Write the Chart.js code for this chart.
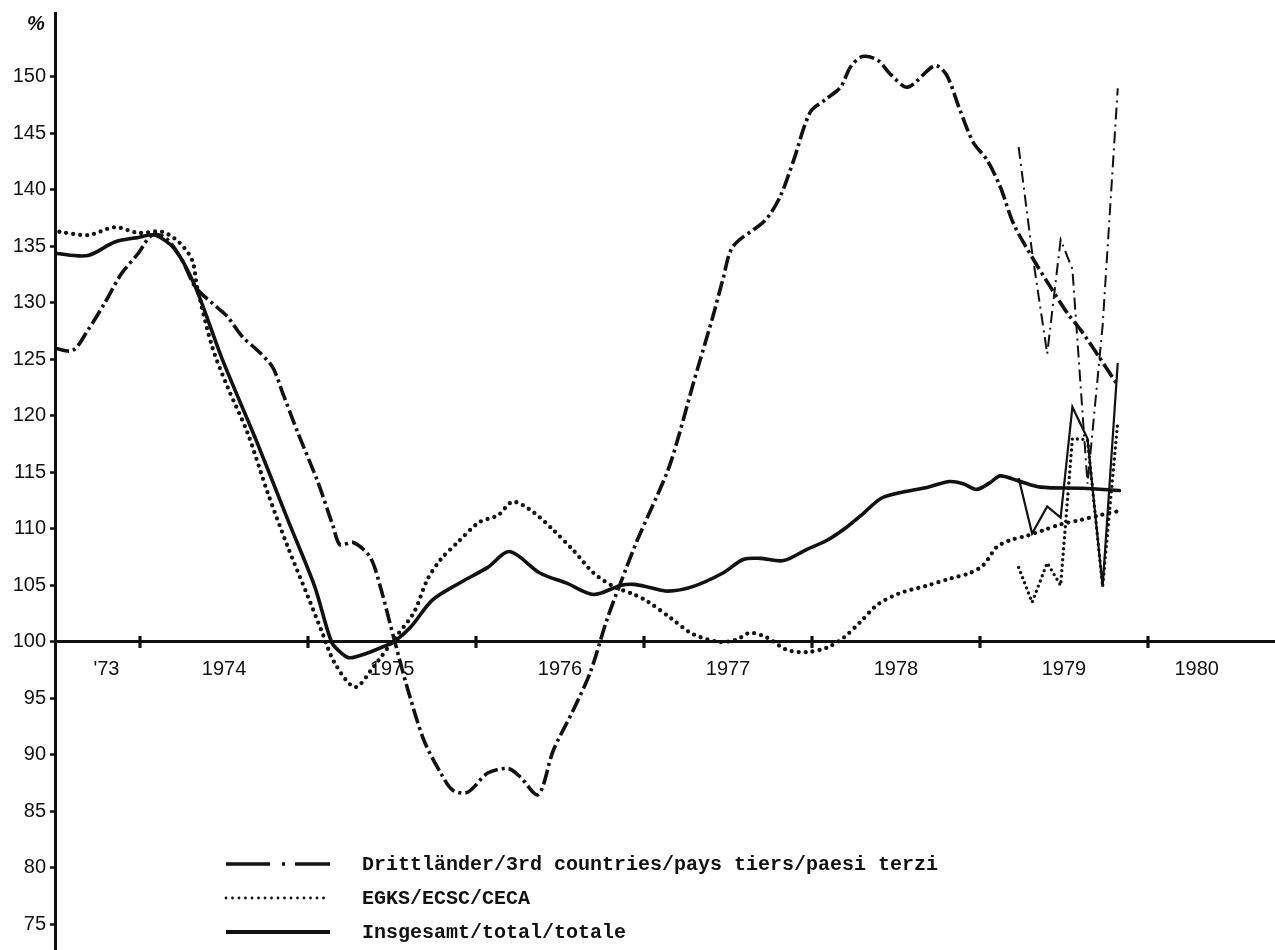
<!DOCTYPE html>
<html>
<head>
<meta charset="utf-8">
<script src="https://cdn.jsdelivr.net/npm/chart.js@4/dist/chart.umd.min.js"></script>
<style>
html,body{margin:0;padding:0;background:#ffffff;}
#wrap{width:1275px;height:950px;position:relative;}
</style>
</head>
<body>
<div id="wrap"><canvas id="c" width="1275" height="950"></canvas></div>
<script>
// ---------- data ----------
const seriesNames = [
  "Drittländer/3rd countries/pays tiers/paesi terzi",
  "EGKS/ECSC/CECA",
  "Insgesamt/total/totale"
];

// Drittländer / 3rd countries (smoothed, thick dash-dot)
const thirdYears = [1973.49,1973.60,1973.69,1973.79,1973.89,1973.99,1974.07,1974.15,1974.25,1974.33,
  1974.46,1974.52,1974.61,1974.70,1974.79,1974.85,1974.94,1975.06,1975.15,1975.19,
  1975.27,1975.37,1975.43,1975.51,1975.59,1975.69,1975.79,1975.86,1975.95,1976.07,
  1976.19,1976.26,1976.37,1976.46,1976.58,1976.68,1976.78,1976.86,1976.96,1977.14,
  1977.21,1977.29,1977.41,1977.47,1977.53,1977.72,1977.81,1977.89,1977.99,1978.08,
  1978.17,1978.23,1978.30,1978.39,1978.47,1978.57,1978.73,1978.80,1978.88,1978.96,
  1979.04,1979.12,1979.20,1979.32,1979.42,1979.52,1979.60,1979.71,1979.82];
const thirdValues = [126.0,125.8,127.6,130.0,132.6,134.4,136.0,135.8,133.8,131.4,
  129.6,128.8,127.0,125.8,124.3,122.0,118.5,114.1,110.2,108.6,
  108.8,107.5,104.9,100.4,96.0,91.3,88.4,86.9,86.7,88.4,
  88.8,88.1,86.5,90.4,94.0,97.3,102.0,105.2,109.0,115.1,
  118.4,122.7,128.8,132.1,135.0,137.3,139.4,142.6,146.9,148.0,
  149.1,150.9,151.8,151.5,150.2,149.1,151.0,150.2,147.1,144.2,
  142.7,140.3,137.0,133.8,131.4,129.1,127.6,125.2,122.7];

// EGKS / ECSC / CECA (smoothed, thick dotted)
const ecscYears = [1973.52,1973.69,1973.85,1973.99,1974.13,1974.23,1974.31,1974.34,1974.43,1974.52,
  1974.64,1974.76,1974.88,1975.00,1975.08,1975.16,1975.28,1975.39,1975.51,1975.63,
  1975.71,1975.79,1975.89,1976.02,1976.13,1976.22,1976.34,1976.46,1976.58,1976.70,
  1976.82,1976.94,1977.02,1977.16,1977.29,1977.45,1977.55,1977.63,1977.73,1977.85,
  1977.97,1978.09,1978.19,1978.29,1978.39,1978.52,1978.69,1978.82,1978.94,1979.02,
  1979.10,1979.18,1979.28,1979.38,1979.48,1979.60,1979.71,1979.83];
const ecscValues = [136.3,136.0,136.7,136.2,136.3,135.4,133.8,131.4,126.1,122.6,
  118.5,113.2,108.4,104.0,101.0,98.1,96.0,97.8,100.2,102.6,
  105.5,107.3,108.8,110.6,111.2,112.4,111.5,109.9,108.1,106.1,
  104.9,104.2,103.6,102.1,100.7,100.0,100.2,100.8,100.4,99.3,
  99.1,99.5,100.4,101.8,103.3,104.3,105.0,105.6,106.1,106.8,
  108.4,109.0,109.4,109.9,110.4,110.8,111.2,111.6];

// Insgesamt / total (smoothed, thick solid)
const totalYears = [1973.49,1973.69,1973.85,1973.99,1974.09,1974.21,1974.33,1974.49,1974.69,1974.88,
  1975.04,1975.14,1975.20,1975.25,1975.35,1975.45,1975.51,1975.61,1975.74,1975.90,
  1976.07,1976.20,1976.38,1976.54,1976.70,1976.86,1976.94,1977.04,1977.14,1977.29,
  1977.47,1977.59,1977.69,1977.83,1977.97,1978.09,1978.21,1978.30,1978.41,1978.52,
  1978.69,1978.82,1978.90,1978.98,1979.06,1979.12,1979.24,1979.36,1979.61,1979.83];
const totalValues = [134.4,134.2,135.4,135.8,136.0,134.7,131.4,125.0,117.9,110.8,
  104.9,100.0,99.0,98.6,99.0,99.6,100.0,101.3,103.7,105.2,
  106.6,108.0,106.1,105.2,104.2,105.0,105.1,104.8,104.5,104.9,
  106.1,107.3,107.4,107.2,108.2,109.0,110.2,111.3,112.7,113.2,
  113.7,114.2,114.0,113.5,114.1,114.7,114.2,113.7,113.6,113.4];

// monthly raw values 1979 (thin lines)
const rawYears  = [1979.23,1979.31,1979.40,1979.48,1979.55,1979.64,1979.73,1979.82];
const rawThird  = [143.8,134.5,125.5,135.6,133.0,114.0,128.0,149.0];
const rawEcsc   = [106.6,103.5,107.0,105.0,118.0,117.9,104.9,119.5];
const rawTotal  = [114.5,109.6,112.0,111.0,120.8,118.0,104.9,124.7];

// axes
const yTickValues = [75,80,85,90,95,100,105,110,115,120,125,130,135,140,145,150];
const yearBoundaries = [1974,1975,1976,1977,1978,1979,1980];
const yearLabels = ["'73","1974","1975","1976","1977","1978","1979","1980"];
const yearLabelAt = [1973.80,1974.5,1975.5,1976.5,1977.5,1978.5,1979.5,1980.29];
const xRange = [1973.494, 1980.756];
const yRange = [72.74, 155.66];

// ---------- chart ----------
const INK = '#111111';
const pts = (xs, ys) => xs.map((x, i) => ({x: x, y: ys[i]}));
const tickFont = {family: "'Liberation Sans', Arial, sans-serif", size: 20};

const dashDot = [15, 4, 3, 4];
const dots = [0, 7];

const datasets = [
  {label: seriesNames[0], data: pts(thirdYears, thirdValues), borderColor: INK, borderWidth: 3.6,
   borderDash: dashDot, tension: 0.3, borderCapStyle: 'butt'},
  {label: seriesNames[1], data: pts(ecscYears, ecscValues), borderColor: INK, borderWidth: 4.3,
   borderDash: dots, borderCapStyle: 'round', tension: 0.3},
  {label: seriesNames[2], data: pts(totalYears, totalValues), borderColor: INK, borderWidth: 3.6,
   tension: 0.3, borderJoinStyle: 'round', borderCapStyle: 'round'},
  {label: 'raw3', data: pts(rawYears, rawThird), borderColor: INK, borderWidth: 2,
   borderDash: [12, 5, 2, 5], tension: 0},
  {label: 'rawE', data: pts(rawYears, rawEcsc), borderColor: INK, borderWidth: 3.4,
   borderDash: [0, 5.5], borderCapStyle: 'round', tension: 0},
  {label: 'rawT', data: pts(rawYears, rawTotal), borderColor: INK, borderWidth: 2.2,
   tension: 0, borderJoinStyle: 'miter'}
];

const decor = {
  id: 'decor',
  afterDraw(chart) {
    const ctx = chart.ctx, xs = chart.scales.x, ys = chart.scales.y, ca = chart.chartArea;
    ctx.save();
    // crossing tick marks on the 100 line
    const y0 = ys.getPixelForValue(100);
    ctx.fillStyle = INK;
    yearBoundaries.forEach(v => {
      const px = xs.getPixelForValue(v);
      ctx.fillRect(px - 1.6, y0 - 6, 3.2, 12);
    });
    // percent sign
    ctx.font = "italic bold 20px 'Liberation Sans', Arial, sans-serif";
    ctx.textAlign = 'center'; ctx.textBaseline = 'middle';
    ctx.fillText('%', ca.left - 19, ca.top + 11);
    // legend
    const lx0 = ca.left + 171, lx1 = ca.left + 275, tx = ca.left + 307;
    const rows = [864, 898, 932];
    ctx.strokeStyle = INK;
    // row 1: dash-dot sample
    ctx.lineWidth = 3.4; ctx.lineCap = 'butt'; ctx.setLineDash([44, 12, 3, 10]);
    ctx.beginPath(); ctx.moveTo(lx0, rows[0]); ctx.lineTo(lx1, rows[0]); ctx.stroke();
    // row 2: dotted sample
    ctx.lineWidth = 2.8; ctx.lineCap = 'round'; ctx.setLineDash([0, 6.5]);
    ctx.beginPath(); ctx.moveTo(lx0, rows[1]); ctx.lineTo(lx1, rows[1]); ctx.stroke();
    // row 3: solid sample
    ctx.lineWidth = 4; ctx.lineCap = 'butt'; ctx.setLineDash([]);
    ctx.beginPath(); ctx.moveTo(lx0, rows[2]); ctx.lineTo(lx1, rows[2]); ctx.stroke();
    ctx.font = "bold 20px 'Liberation Mono', 'Courier New', monospace";
    ctx.textAlign = 'left'; ctx.textBaseline = 'middle';
    seriesNames.forEach((s, i) => ctx.fillText(s, tx, rows[i] + 1));
    ctx.restore();
  }
};

new Chart(document.getElementById('c'), {
  type: 'line',
  data: {datasets: datasets},
  options: {
    responsive: false,
    animation: false,
    devicePixelRatio: 1,
    layout: {padding: {top: 13, left: 0, right: 0, bottom: 0}},
    plugins: {legend: {display: false}, tooltip: {enabled: false}},
    elements: {point: {radius: 0}, line: {fill: false}},
    scales: {
      x: {
        type: 'linear', min: xRange[0], max: xRange[1], position: {y: 100},
        grid: {display: false, drawTicks: false},
        border: {display: true, color: INK, width: 3},
        afterBuildTicks: s => { s.ticks = yearLabelAt.map(v => ({value: v})); },
        afterFit: s => { s.paddingLeft = 0; s.paddingRight = 0; },
        ticks: {autoSkip: false, maxRotation: 0, padding: 16, font: tickFont, color: INK,
                callback: (v, i) => yearLabels[i]}
      },
      y: {
        type: 'linear', min: yRange[0], max: yRange[1], position: 'left',
        afterFit: s => { s.width = 55; s.paddingTop = 0; s.paddingBottom = 0; },
        afterBuildTicks: s => { s.ticks = yTickValues.map(v => ({value: v})); },
        grid: {drawOnChartArea: false, drawTicks: true, tickLength: 5, tickWidth: 2.5, tickColor: INK},
        border: {display: true, color: INK, width: 3},
        ticks: {padding: 4, font: tickFont, color: INK, callback: v => String(v)}
      }
    }
  },
  plugins: [decor]
});
</script>
</body>
</html>
